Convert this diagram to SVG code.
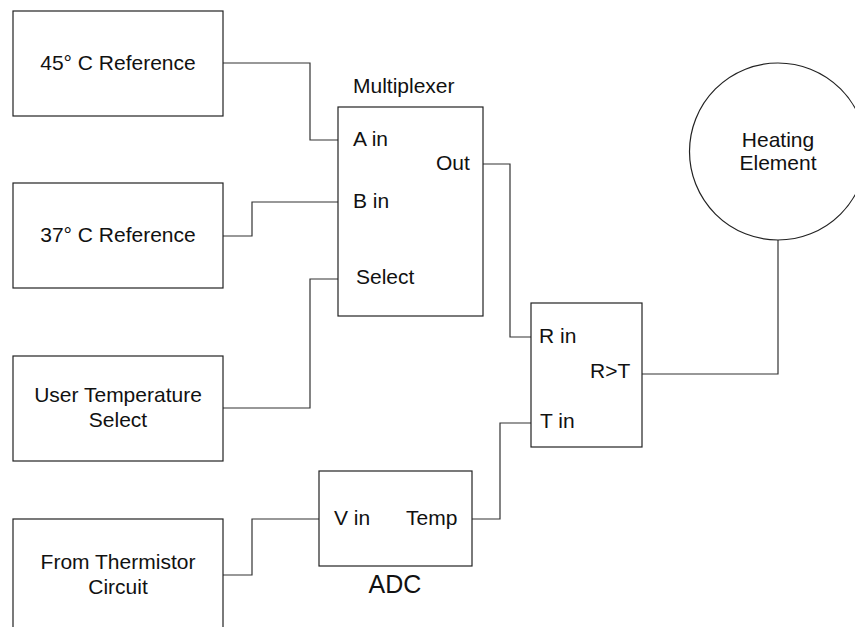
<svg xmlns="http://www.w3.org/2000/svg" width="855" height="627" viewBox="0 0 855 627">
<style>
.b{fill:#fff;stroke:#222;stroke-width:1.2}
.w{fill:none;stroke:#333;stroke-width:1.2}
text{font-family:"Liberation Sans",Arial,sans-serif;font-size:21px;fill:#111}
.c{text-anchor:middle}
</style>
<rect width="855" height="627" fill="#fff"/>
<g id="connectors">
<polyline class="w" points="223,63 310,63 310,140 338,140"/>
<polyline class="w" points="223,236 252,236 252,202 338,202"/>
<polyline class="w" points="223,408 310,408 310,279 338,279"/>
<polyline class="w" points="223,575 252,575 252,519 319,519"/>
<polyline class="w" points="472,519 500,519 500,423 531,423"/>
<polyline class="w" points="483,164 510,164 510,337 531,337"/>
<polyline class="w" points="642,374 778,374 778,240"/>
</g>
<g id="ref45"><rect class="b" x="13" y="11" width="210" height="105"/><text class="c" x="118" y="70">45° C Reference</text></g>
<g id="ref37"><rect class="b" x="13" y="183" width="210" height="105"/><text class="c" x="118" y="242">37° C Reference</text></g>
<g id="user"><rect class="b" x="13" y="356" width="210" height="105"/><text class="c" x="118" y="402">User Temperature</text><text class="c" x="118" y="427">Select</text></g>
<g id="therm"><rect class="b" x="13" y="519" width="210" height="120"/><text class="c" x="118" y="569">From Thermistor</text><text class="c" x="118" y="594">Circuit</text></g>
<g id="mux"><rect class="b" x="338" y="107" width="145" height="209"/>
<text x="353" y="93">Multiplexer</text>
<text x="353" y="146">A in</text>
<text x="436" y="170">Out</text>
<text x="353" y="208">B in</text>
<text x="356" y="284">Select</text></g>
<g id="adc"><rect class="b" x="319" y="471" width="153" height="95"/>
<text x="334" y="525">V in</text>
<text x="406" y="525">Temp</text>
<text class="c" x="395" y="593" style="font-size:25px">ADC</text></g>
<g id="comp"><rect class="b" x="531" y="303" width="111" height="144"/>
<text x="539" y="343">R in</text>
<text x="590" y="378">R&gt;T</text>
<text x="540" y="428">T in</text></g>
<g id="heater"><circle class="b" cx="778" cy="151.5" r="88.5"/>
<text class="c" x="778" y="147">Heating</text><text class="c" x="778" y="170">Element</text></g>
</svg>
